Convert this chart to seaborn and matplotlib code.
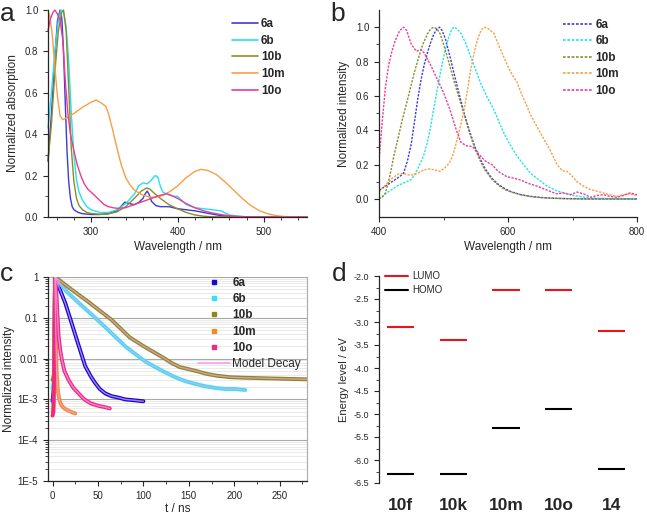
import numpy as np
import pandas as pd
import matplotlib
matplotlib.use("Agg")
import matplotlib.pyplot as plt
import seaborn as sns
from matplotlib.ticker import MultipleLocator, FixedLocator, NullFormatter, LogLocator
from matplotlib.lines import Line2D

sns.set_style("ticks")
plt.rcParams['font.family'] = ['Liberation Sans', 'DejaVu Sans']

# ---------------- data: (a) absorption ----------------
samples = ['6a', '6b', '10b', '10m', '10o']
abs_wl_6a = [250, 254, 258, 261, 264, 266, 268, 270, 272, 274, 276, 278, 280, 285, 290, 300, 310, 320, 330, 339, 344, 350, 355, 360, 363, 365, 367, 370, 375, 380, 390, 400, 410, 420, 430, 440, 450, 460, 470, 480, 550]
abs_6a = [0.27, 0.5, 0.78, 0.95, 1.0, 0.96, 0.8, 0.55, 0.32, 0.17, 0.09, 0.05, 0.035, 0.022, 0.016, 0.012, 0.012, 0.016, 0.03, 0.072, 0.065, 0.06, 0.07, 0.09, 0.115, 0.125, 0.11, 0.075, 0.055, 0.05, 0.05, 0.04, 0.035, 0.03, 0.022, 0.014, 0.007, 0.003, 0.001, 0.0, 0.0]
abs_wl_6b = [250, 254, 258, 262, 265, 268, 271, 274, 277, 280, 283, 286, 290, 295, 300, 310, 320, 330, 340, 350, 355, 360, 365, 370, 374, 377, 380, 383, 388, 395, 400, 405, 410, 420, 430, 440, 450, 455, 460, 470, 480, 550]
abs_6b = [0.43, 0.6, 0.8, 0.95, 1.0, 0.99, 0.92, 0.75, 0.5, 0.3, 0.18, 0.12, 0.08, 0.05, 0.035, 0.022, 0.022, 0.035, 0.065, 0.11, 0.15, 0.165, 0.16, 0.18, 0.2, 0.195, 0.15, 0.12, 0.11, 0.1, 0.1, 0.08, 0.06, 0.045, 0.04, 0.035, 0.03, 0.02, 0.01, 0.004, 0.001, 0.0]
abs_wl_10b = [250, 254, 258, 262, 266, 268, 271, 274, 277, 280, 283, 286, 290, 295, 300, 310, 320, 330, 340, 350, 358, 364, 368, 373, 380, 390, 400, 410, 420, 430, 440, 550]
abs_10b = [0.27, 0.45, 0.7, 0.9, 0.99, 1.0, 0.9, 0.62, 0.33, 0.17, 0.09, 0.055, 0.035, 0.022, 0.017, 0.013, 0.015, 0.025, 0.05, 0.09, 0.125, 0.14, 0.135, 0.115, 0.09, 0.06, 0.04, 0.022, 0.01, 0.004, 0.001, 0.0]
abs_wl_10m = [250, 252, 255, 258, 261, 264, 267, 272, 280, 290, 300, 306, 312, 317, 320, 325, 330, 335, 340, 345, 350, 360, 370, 380, 390, 400, 410, 420, 427, 435, 445, 455, 465, 475, 485, 495, 505, 515, 525, 540, 550]
abs_10m = [1.0, 0.97, 0.88, 0.72, 0.58, 0.49, 0.47, 0.48, 0.5, 0.53, 0.555, 0.565, 0.55, 0.535, 0.5, 0.42, 0.33, 0.25, 0.19, 0.155, 0.13, 0.105, 0.095, 0.1, 0.12, 0.15, 0.19, 0.22, 0.23, 0.225, 0.205, 0.17, 0.13, 0.09, 0.055, 0.03, 0.015, 0.006, 0.002, 0.0, 0.0]
abs_wl_10o = [250, 253, 256, 258, 261, 264, 267, 270, 273, 276, 280, 284, 288, 292, 296, 300, 305, 310, 315, 320, 325, 330, 340, 350, 360, 370, 380, 388, 395, 400, 410, 420, 430, 440, 450, 460, 470, 480, 550]
abs_10o = [0.9, 0.96, 0.99, 1.0, 0.98, 0.95, 0.86, 0.66, 0.5, 0.4, 0.32, 0.25, 0.2, 0.16, 0.135, 0.12, 0.1, 0.08, 0.06, 0.05, 0.045, 0.042, 0.045, 0.06, 0.075, 0.09, 0.105, 0.112, 0.1, 0.09, 0.065, 0.045, 0.03, 0.02, 0.012, 0.006, 0.003, 0.001, 0.0]

# ---------------- data: (b) emission ----------------
em_wl_6a = [400, 408, 416, 424, 432, 438, 444, 450, 455, 460, 465, 470, 475, 480, 485, 490, 494, 498, 503, 510, 517, 525, 532, 540, 548, 556, 564, 575, 585, 595, 605, 620, 635, 650, 670, 690, 720, 800]
em_6a = [0.05, 0.07, 0.09, 0.11, 0.13, 0.15, 0.22, 0.32, 0.45, 0.58, 0.69, 0.78, 0.85, 0.91, 0.96, 0.99, 1.0, 0.98, 0.93, 0.83, 0.72, 0.6, 0.5, 0.4, 0.31, 0.24, 0.18, 0.12, 0.085, 0.06, 0.042, 0.025, 0.015, 0.009, 0.004, 0.002, 0.0, 0.0]
em_wl_6b = [400, 410, 420, 428, 436, 443, 449, 455, 462, 469, 475, 480, 487, 495, 502, 508, 512, 516, 521, 527, 534, 542, 550, 558, 568, 578, 586, 594, 604, 614, 625, 635, 648, 661, 674, 687, 700, 718, 740, 800]
em_6b = [0.0, 0.03, 0.055, 0.075, 0.09, 0.1, 0.11, 0.14, 0.19, 0.25, 0.33, 0.42, 0.57, 0.73, 0.86, 0.94, 0.98, 1.0, 0.99, 0.965, 0.91, 0.83, 0.75, 0.67, 0.59, 0.52, 0.45, 0.38, 0.31, 0.25, 0.195, 0.15, 0.11, 0.074, 0.05, 0.035, 0.022, 0.01, 0.004, 0.0]
em_wl_10b = [400, 405, 410, 416, 423, 430, 436, 443, 449, 455, 462, 468, 475, 480, 485, 490, 495, 501, 508, 516, 524, 532, 540, 548, 556, 564, 575, 585, 595, 605, 620, 635, 650, 670, 690, 720, 800]
em_10b = [0.0, 0.01, 0.035, 0.12, 0.25, 0.36, 0.46, 0.56, 0.65, 0.74, 0.83, 0.9, 0.96, 0.99, 1.0, 0.99, 0.96, 0.89, 0.8, 0.69, 0.59, 0.49, 0.39, 0.3, 0.23, 0.17, 0.115, 0.08, 0.055, 0.04, 0.024, 0.014, 0.008, 0.004, 0.002, 0.0, 0.0]
em_wl_10m = [400, 410, 420, 430, 437, 445, 452, 460, 470, 478, 486, 494, 502, 509, 515, 520, 526, 532, 537, 542, 548, 553, 558, 563, 568, 573, 578, 585, 593, 600, 607, 614, 620, 627, 635, 645, 656, 666, 676, 684, 692, 700, 707, 717, 728, 738, 748, 758, 769, 779, 789, 800]
em_10m = [0.04, 0.08, 0.12, 0.145, 0.15, 0.14, 0.14, 0.15, 0.17, 0.175, 0.17, 0.16, 0.18, 0.21, 0.26, 0.33, 0.42, 0.52, 0.63, 0.75, 0.86, 0.93, 0.98, 1.0, 0.995, 0.98, 0.965, 0.9, 0.83, 0.77, 0.72, 0.68, 0.62, 0.56, 0.49, 0.42, 0.345, 0.28, 0.2, 0.165, 0.16, 0.13, 0.1, 0.075, 0.055, 0.045, 0.035, 0.025, 0.015, 0.025, 0.03, 0.02]
em_wl_10o = [400, 405, 410, 415, 420, 425, 432, 438, 443, 450, 458, 465, 470, 480, 490, 500, 510, 520, 527, 535, 545, 555, 565, 575, 585, 598, 610, 620, 632, 645, 655, 665, 675, 686, 697, 707, 717, 728, 738, 748, 758, 769, 779, 789, 800]
em_10o = [0.22, 0.45, 0.65, 0.78, 0.86, 0.92, 0.98, 1.0, 0.98, 0.9, 0.86, 0.87, 0.85, 0.78, 0.7, 0.62, 0.52, 0.4, 0.33, 0.31, 0.305, 0.26, 0.22, 0.2, 0.16, 0.13, 0.12, 0.11, 0.09, 0.075, 0.06, 0.045, 0.03, 0.035, 0.025, 0.04, 0.03, 0.01, 0.02, 0.025, 0.015, 0.01, 0.02, 0.035, 0.025]

# ---------------- data: (c) decay ----------------
t_6a = [0, 1.5, 2.5, 3, 8, 14, 21, 29, 36, 42, 47, 52, 58, 65, 73, 80, 90, 100]
I_6a = [0.0009, 0.002, 0.3, 1.0, 0.5, 0.23, 0.074, 0.02, 0.0065, 0.0037, 0.0025, 0.0018, 0.0014, 0.0012, 0.0011, 0.001, 0.00095, 0.0009]
t_6b = [0, 1.5, 2.5, 3, 15, 29, 47, 65, 80, 90, 102, 113, 124, 135, 146, 157, 168, 180, 190, 200, 212]
I_6b = [0.0018, 0.003, 0.3, 1.0, 0.45, 0.23, 0.1, 0.042, 0.02, 0.0135, 0.0085, 0.0062, 0.0046, 0.0035, 0.0028, 0.0024, 0.0021, 0.0019, 0.0018, 0.0018, 0.0017]
t_10b = [0, 1.5, 2.5, 3, 20, 40, 65, 85, 102, 122, 131, 140, 150, 159, 170, 181, 195, 210, 232, 255, 280]
I_10b = [0.003, 0.004, 0.3, 1.0, 0.51, 0.24, 0.089, 0.033, 0.019, 0.0105, 0.0078, 0.0062, 0.0055, 0.0049, 0.0042, 0.0038, 0.0035, 0.0034, 0.0033, 0.0032, 0.0031]
t_10m = [0, 1, 2, 2.5, 3, 3.5, 4.5, 6, 8, 10, 13, 16, 20, 25]
I_10m = [0.0005, 0.0007, 0.003, 1.0, 0.3, 0.05, 0.005, 0.0015, 0.0009, 0.0007, 0.0006, 0.00055, 0.0005, 0.00045]
t_10o = [0, 1, 2, 3, 4, 4.8, 5.7, 6.7, 8.5, 10.3, 13, 17.6, 23, 28.7, 35, 42, 50, 57, 63]
I_10o = [0.0004, 0.0005, 0.01, 1.0, 0.5, 0.23, 0.09, 0.035, 0.016, 0.0093, 0.005, 0.003, 0.0019, 0.0014, 0.001, 0.0008, 0.0007, 0.00065, 0.0006]

# ---------------- data: (d) energy levels ----------------
compounds = ['10f', '10k', '10m', '10o', '14']
lumo = [-3.1, -3.4, -2.3, -2.3, -3.2]
homo = [-6.3, -6.3, -5.3, -4.9, -6.2]

# ---------------- styles ----------------
col_ab = {'6a': '#3b3bd6', '6b': '#22e2ec', '10b': '#8c8c2c', '10m': '#f5a044', '10o': '#ec3c94'}
col_c = {'6a': '#0c0cd6', '6b': '#2ee4f2', '10b': '#8a8a1c', '10m': '#f08c2c', '10o': '#ee2a80'}
model_col = '#f7a0ec'

W, H = 647, 516
fig = plt.figure(figsize=(W / 100, H / 100), dpi=100)


def axrect(l, t, r, b):
    return [l / W, 1 - b / H, (r - l) / W, (b - t) / H]


def long_df(xs, ys, xname, yname):
    frames = []
    for s, x, y in zip(samples, xs, ys):
        frames.append(pd.DataFrame({xname: x, yname: y, 'sample': s}))
    return pd.concat(frames, ignore_index=True)


tick_fs = 7
lab_fs = 8.5
leg_fs = 8.5

# ---- panel a ----
ax_a = fig.add_axes(axrect(48, 10, 307, 217))
df_a = long_df([abs_wl_6a, abs_wl_6b, abs_wl_10b, abs_wl_10m, abs_wl_10o],
               [abs_6a, abs_6b, abs_10b, abs_10m, abs_10o], 'wl', 'A')
sns.lineplot(data=df_a, x='wl', y='A', hue='sample', hue_order=samples, palette=col_ab,
             estimator=None, sort=False, lw=1.0, ax=ax_a, legend=False)
for ln in ax_a.lines:
    ln.set_clip_on(False)
ax_a.set_xlim(250, 550)
ax_a.set_ylim(0, 1.0)
ax_a.xaxis.set_major_locator(FixedLocator([300, 400, 500]))
ax_a.xaxis.set_minor_locator(MultipleLocator(20))
ax_a.yaxis.set_major_locator(MultipleLocator(0.2))
ax_a.yaxis.set_minor_locator(MultipleLocator(0.1))
ax_a.set_xlabel('Wavelength / nm', fontsize=lab_fs, labelpad=3)
ax_a.set_ylabel('Normalized absorption', fontsize=lab_fs, labelpad=4)
sns.despine(ax=ax_a)
h_a = [Line2D([], [], color=col_ab[s], lw=1.2) for s in samples]
ax_a.legend(h_a, samples, loc='upper left', bbox_to_anchor=(232 / W, 1 - 18 / H),
            bbox_transform=fig.transFigure, frameon=False, prop={'weight': 'bold', 'size': leg_fs},
            handlelength=2.2, handletextpad=0.25, labelspacing=0.4, borderpad=0, borderaxespad=0)

# ---- panel b ----
ax_b = fig.add_axes(axrect(379, 10, 637, 217))
df_b = long_df([em_wl_6a, em_wl_6b, em_wl_10b, em_wl_10m, em_wl_10o],
               [em_6a, em_6b, em_10b, em_10m, em_10o], 'wl', 'I')
sns.lineplot(data=df_b, x='wl', y='I', hue='sample', hue_order=samples, palette=col_ab,
             style='sample', dashes={s: (1.6, 1.0) for s in samples},
             estimator=None, sort=False, lw=1.0, ax=ax_b, legend=False)
ax_b.set_xlim(400, 800)
ax_b.set_ylim(-0.105, 1.1)
ax_b.xaxis.set_major_locator(FixedLocator([400, 600, 800]))
ax_b.xaxis.set_minor_locator(FixedLocator([500, 700]))
ax_b.yaxis.set_major_locator(FixedLocator([0, 0.2, 0.4, 0.6, 0.8, 1.0]))
ax_b.yaxis.set_minor_locator(FixedLocator([0.1, 0.3, 0.5, 0.7, 0.9]))
ax_b.set_xlabel('Wavelength / nm', fontsize=lab_fs, labelpad=3)
ax_b.set_ylabel('Normalized intensity', fontsize=lab_fs, labelpad=4)
sns.despine(ax=ax_b)
h_b = [Line2D([], [], color=col_ab[s], lw=1.2, dashes=(1.6, 1.0)) for s in samples]
ax_b.legend(h_b, samples, loc='upper left', bbox_to_anchor=(563 / W, 1 - 19 / H),
            bbox_transform=fig.transFigure, frameon=False, prop={'weight': 'bold', 'size': leg_fs},
            handlelength=2.5, handletextpad=0.25, labelspacing=0.38, borderpad=0, borderaxespad=0)

# ---- panel c ----
ax_c = fig.add_axes(axrect(48, 277, 307, 481))
ax_c.set_yscale('log')
series_c = {'6a': (t_6a, I_6a), '6b': (t_6b, I_6b), '10b': (t_10b, I_10b),
            '10m': (t_10m, I_10m), '10o': (t_10o, I_10o)}
for s in samples:
    t, I = series_c[s]
    sns.lineplot(x=t, y=I, color=col_c[s], lw=2.8, estimator=None, sort=False, ax=ax_c)
for s in samples:
    t, I = series_c[s]
    k = int(np.argmax(I))
    sns.lineplot(x=t[k:], y=I[k:], color=model_col, lw=1.0, alpha=0.75,
                 estimator=None, sort=False, ax=ax_c)
ax_c.set_xlim(-5, 280)
ax_c.set_ylim(1e-5, 1)
ax_c.yaxis.set_major_locator(FixedLocator([1e-5, 1e-4, 1e-3, 1e-2, 1e-1, 1]))
ax_c.set_yticklabels(['1E-5', '1E-4', '1E-3', '0.01', '0.1', '1'])
ax_c.yaxis.set_minor_locator(LogLocator(base=10, subs=np.arange(2, 10)))
ax_c.yaxis.set_minor_formatter(NullFormatter())
ax_c.xaxis.set_major_locator(MultipleLocator(50))
ax_c.xaxis.set_minor_locator(MultipleLocator(25))
ax_c.grid(True, which='major', axis='y', color='#a8a8a8', lw=0.8)
ax_c.grid(True, which='minor', axis='y', color='#e6e6e6', lw=0.6)
ax_c.set_axisbelow(True)
ax_c.spines['top'].set_visible(False)
ax_c.spines['right'].set_color('#b0b0b0')
ax_c.set_xlabel('t / ns', fontsize=lab_fs, labelpad=2)
ax_c.set_ylabel('Normalized intensity', fontsize=lab_fs, labelpad=2)
h_c = [Line2D([], [], color=col_c[s], marker='s', ms=3.5, ls='none') for s in samples]
h_c.append(Line2D([], [], color=model_col, lw=1.2))
leg_c = ax_c.legend(h_c, samples + ['Model Decay'], loc='upper left',
                    bbox_to_anchor=(198 / W, 1 - 277 / H), bbox_transform=fig.transFigure,
                    frameon=False, prop={'weight': 'bold', 'size': leg_fs},
                    handlelength=2.7, handletextpad=0.2, labelspacing=0.36, borderpad=0, borderaxespad=0)
leg_c.get_texts()[-1].set_fontweight('normal')

# ---- panel d ----
ax_d = fig.add_axes(axrect(379, 276, 637, 483))
xpos = np.arange(len(compounds))
hw = 0.26
ax_d.hlines(lumo, xpos - hw, xpos + hw, color='#e8141c', lw=1.5)
ax_d.hlines(homo, xpos - hw, xpos + hw, color='black', lw=1.5)
ax_d.set_xlim(-0.41, 4.49)
ax_d.set_ylim(-6.5, -2.0)
ax_d.set_xticks(xpos)
ax_d.set_xticklabels(compounds, fontsize=12.5, fontweight='bold')
ax_d.tick_params(axis='x', length=0, pad=11)
ax_d.yaxis.set_major_locator(MultipleLocator(0.5))
ax_d.yaxis.set_minor_locator(MultipleLocator(0.25))
ax_d.yaxis.set_major_formatter(matplotlib.ticker.FormatStrFormatter('%.1f'))
ax_d.set_ylabel('Energy level / eV', fontsize=lab_fs - 0.5, labelpad=3)
for sp in ['top', 'right', 'bottom']:
    ax_d.spines[sp].set_visible(False)
h_d = [Line2D([], [], color='#e8141c', lw=1.5), Line2D([], [], color='black', lw=1.5)]
ax_d.legend(h_d, ['LUMO', 'HOMO'], loc='upper left', bbox_to_anchor=(385 / W, 1 - 271 / H),
            bbox_transform=fig.transFigure, frameon=False, prop={'size': 7},
            handlelength=2.4, handletextpad=0.4, labelspacing=0.45, borderpad=0, borderaxespad=0)

for ax in [ax_a, ax_b, ax_c, ax_d]:
    ax.tick_params(which='major', labelsize=tick_fs, length=3.5, width=0.8, direction='out')
    ax.tick_params(which='minor', length=2, width=0.6, direction='out')
    for sp in ax.spines.values():
        sp.set_linewidth(0.9)
ax_d.tick_params(axis='x', labelsize=12.5, length=0)
ax_d.tick_params(axis='y', labelsize=6.5)

# panel letters
fig.text(0 / W, 1 - 2 / H, 'a', fontsize=19, va='top', ha='left')
fig.text(330 / W, 1 - 2 / H, 'b', fontsize=19, va='top', ha='left')
fig.text(0 / W, 1 - 262 / H, 'c', fontsize=19, va='top', ha='left')
fig.text(332 / W, 1 - 262 / H, 'd', fontsize=19, va='top', ha='left')

fig.savefig('out.png', dpi=100)
